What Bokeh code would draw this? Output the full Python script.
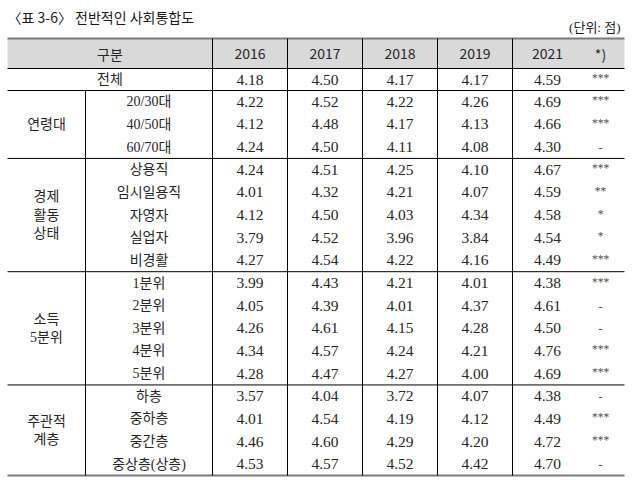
from bokeh.plotting import figure
from bokeh.models import Range1d, ColumnDataSource
from bokeh.core.properties import value
from bokeh.embed import file_html
from bokeh.resources import INLINE

# ---------------- data ----------------
title = "〈표 3-6〉 전반적인 사회통합도"
unit = "(단위: 점)"
header_label = "구분"
years = ["2016", "2017", "2018", "2019", "2021"]
sig_header = "*)"

row_labels = ["전체", "20/30대", "40/50대", "60/70대",
              "상용직", "임시일용직", "자영자", "실업자", "비경활",
              "1분위", "2분위", "3분위", "4분위", "5분위",
              "하층", "중하층", "중간층", "중상층(상층)"]
v2016 = [4.18, 4.22, 4.12, 4.24, 4.24, 4.01, 4.12, 3.79, 4.27, 3.99, 4.05, 4.26, 4.34, 4.28, 3.57, 4.01, 4.46, 4.53]
v2017 = [4.50, 4.52, 4.48, 4.50, 4.51, 4.32, 4.50, 4.52, 4.54, 4.43, 4.39, 4.61, 4.57, 4.47, 4.04, 4.54, 4.60, 4.57]
v2018 = [4.17, 4.22, 4.17, 4.11, 4.25, 4.21, 4.03, 3.96, 4.22, 4.21, 4.01, 4.15, 4.24, 4.27, 3.72, 4.19, 4.29, 4.52]
v2019 = [4.17, 4.26, 4.13, 4.08, 4.10, 4.07, 4.34, 3.84, 4.16, 4.01, 4.37, 4.28, 4.21, 4.00, 4.07, 4.12, 4.20, 4.42]
v2021 = [4.59, 4.69, 4.66, 4.30, 4.67, 4.59, 4.58, 4.54, 4.49, 4.38, 4.61, 4.50, 4.76, 4.69, 4.38, 4.49, 4.72, 4.70]
sig = ["***", "***", "***", "-", "***", "**", "*", "*", "***",
       "***", "-", "-", "***", "***", "-", "***", "***", "-"]
group_names = [["연령대"], ["경제", "활동", "상태"], ["소득", "5분위"], ["주관적", "계층"]]
group_sizes = [3, 5, 5, 4]

# ---------------- layout (styles) ----------------
X_LEFT, X_GROUP, X_LABEL, X_RIGHT = 7, 85, 212, 624
COL_EDGES = [212, 287, 362, 437, 512]
X_2021, X_SIG = 547, 600
Y_TOP, Y_HEAD, Y_TOTAL = 38, 68, 90
ROW_H = 22.65
GROUP_LINE_H = 18.5
STAR_RAISE = 1.5

SANS = "'Noto Sans CJK KR'"
SERIF = "'Liberation Serif', 'Noto Sans CJK KR'"
TXT = "#262626"

p = figure(width=640, height=480, x_range=Range1d(0, 640), y_range=Range1d(480, 0),
           output_backend="svg", toolbar_location=None,
           x_axis_type=None, y_axis_type=None, min_border=0)
p.grid.visible = False
p.outline_line_color = None
p.background_fill_color = "white"
p.border_fill_color = "white"

# header background
p.quad(left=[X_LEFT], right=[X_RIGHT], top=[Y_TOP], bottom=[Y_HEAD],
       fill_color="#d9d9d9", line_color=None)

# row centers
n_rows = len(row_labels)
row_y = [(Y_HEAD + Y_TOTAL) / 2] + [Y_TOTAL + (i - 0.5) * ROW_H for i in range(1, n_rows)]
y_bottom = Y_TOTAL + (n_rows - 1) * ROW_H

# group boundaries
bounds = [Y_TOTAL]
for s in group_sizes:
    bounds.append(bounds[-1] + s * ROW_H)

# horizontal lines
h_ys = [Y_HEAD] + bounds[:-1]
p.segment(x0=[X_LEFT] * len(h_ys), x1=[X_RIGHT] * len(h_ys), y0=h_ys, y1=h_ys,
          line_color="black", line_width=1)
p.segment(x0=[X_LEFT, X_LEFT], x1=[X_RIGHT, X_RIGHT], y0=[Y_TOP, y_bottom], y1=[Y_TOP, y_bottom],
          line_color="#7a7a7a", line_width=2)
# vertical lines
p.segment(x0=COL_EDGES, x1=COL_EDGES, y0=[Y_TOP] * len(COL_EDGES), y1=[y_bottom] * len(COL_EDGES),
          line_color="black", line_width=1)
p.segment(x0=[X_GROUP], x1=[X_GROUP], y0=[Y_TOTAL], y1=[y_bottom], line_color="black", line_width=1)

# title and unit
p.text(x=[X_LEFT], y=[16], text=[title], text_font=value(SANS), text_font_size="14px",
       text_align="left", text_baseline="middle", text_color="#1a1a1a")
p.text(x=[X_RIGHT - 4], y=[27], text=[unit], text_font=value(SERIF), text_font_size="13px",
       text_align="right", text_baseline="middle", text_color="#1a1a1a")

# header texts
col_x = [(COL_EDGES[i] + COL_EDGES[i + 1]) / 2 for i in range(4)] + [X_2021]
y_h = (Y_TOP + Y_HEAD) / 2
p.text(x=[(X_LEFT + X_LABEL) / 2] + col_x + [X_SIG], y=[y_h] * 7,
       text=[header_label] + years + [sig_header], text_font=value(SANS), text_font_size="14px",
       text_align="center", text_baseline="middle", text_color=TXT)

# row labels
label_x = [(X_LEFT + X_LABEL) / 2] + [(X_GROUP + X_LABEL) / 2] * (n_rows - 1)
p.text(x=label_x, y=row_y, text=row_labels, text_font=value(SERIF), text_font_size="14px",
       text_align="center", text_baseline="middle", text_color=TXT)

# group labels
gx, gy, gt = [], [], []
for k, names in enumerate(group_names):
    c = (bounds[k] + bounds[k + 1]) / 2
    n = len(names)
    for j, nm in enumerate(names):
        gx.append((X_LEFT + X_GROUP) / 2)
        gy.append(c + (j - (n - 1) / 2) * GROUP_LINE_H)
        gt.append(nm)
p.text(x=gx, y=gy, text=gt, text_font=value(SERIF), text_font_size="14px",
       text_align="center", text_baseline="middle", text_color=TXT)

# values
series = [v2016, v2017, v2018, v2019, v2021]
vx, vy, vt = [], [], []
for ci, vals in enumerate(series):
    for ri, v in enumerate(vals):
        vx.append(col_x[ci])
        vy.append(row_y[ri])
        vt.append(f"{v:.2f}")
src = ColumnDataSource(dict(x=vx, y=vy, t=vt))
p.text(x="x", y="y", text="t", source=src, text_font=value(SERIF), text_font_size="15.5px",
       text_align="center", text_baseline="middle", text_color=TXT)

# significance
sig_y = [y - STAR_RAISE if "*" in s else y for s, y in zip(sig, row_y)]
p.text(x=[X_SIG] * n_rows, y=sig_y, text=sig, text_font=value(SERIF), text_font_size="11.5px",
       text_align="center", text_baseline="middle", text_color="#4d4d4d")

open("out.html", "w").write(file_html(p, INLINE))
